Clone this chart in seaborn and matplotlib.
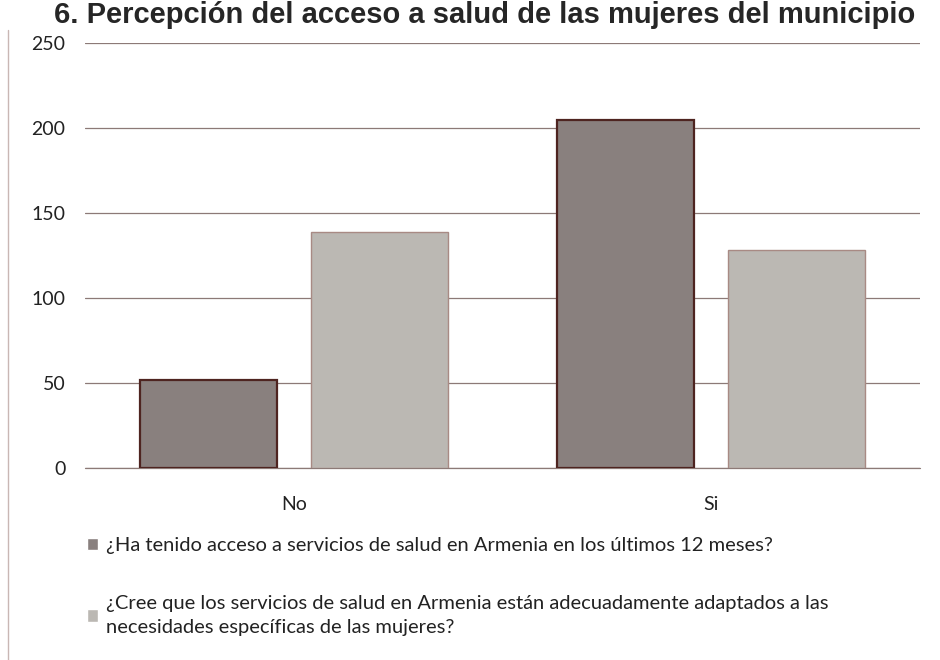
import matplotlib
matplotlib.use("Agg")
import matplotlib.pyplot as plt
from matplotlib.lines import Line2D
import seaborn as sns
import pandas as pd

# Datos
categorias = ["No", "Si"]
acceso_12_meses = [52, 205]
servicios_adaptados = [139, 128]
series = [
    "¿Ha tenido acceso a servicios de salud en Armenia en los últimos 12 meses?",
    "¿Cree que los servicios de salud en Armenia están adecuadamente adaptados a las\nnecesidades específicas de las mujeres?",
]
titulo = "6. Percepción del acceso a salud de las mujeres del municipio"

df = pd.DataFrame({
    "respuesta": categorias * 2,
    "valor": acceso_12_meses + servicios_adaptados,
    "pregunta": [series[0]] * 2 + [series[1]] * 2,
})

sns.set_style("white")
plt.rcParams["font.family"] = ["Lato", "DejaVu Sans"]

fig = plt.figure(figsize=(9.4, 6.6), dpi=100)
ax = fig.add_axes([85 / 940, 1 - 468 / 660, 835 / 940, 425 / 660])

colores = ["#8b7f7c", "#bcb8b2"]
sns.barplot(data=df, x="respuesta", y="valor", hue="pregunta", palette=colores,
            width=0.82, gap=0.2, ax=ax, legend=True)

bordes = ["#4e2420", "#a88a84"]
for cont, ec, lw in zip(ax.containers, bordes, [1.6, 1.0]):
    for barra in cont:
        barra.set_edgecolor(ec)
        barra.set_linewidth(lw)

ax.set_ylim(0, 250)
ax.set_yticks(range(0, 251, 50))
ax.set_xlim(-0.5, 1.5)
ax.grid(axis="y", color="#8c7a77", linewidth=0.9)
ax.axhline(0, color="#8c7a77", linewidth=0.9, clip_on=False, zorder=0.5)
ax.set_axisbelow(True)
for s in ax.spines.values():
    s.set_visible(False)
ax.tick_params(axis="y", length=0, pad=14, labelsize=14, labelcolor="#222222")
ax.tick_params(axis="x", length=0, pad=20, labelsize=14, labelcolor="#222222")
ax.set_xlabel("")
ax.set_ylabel("")

handles, _ = ax.get_legend_handles_labels()
leg = ax.legend(handles, series, loc="upper left", bbox_to_anchor=(-16 / 835, -51 / 425),
                frameon=False, fontsize=14.5, handlelength=0.55, handleheight=0.55,
                handletextpad=0.4, labelspacing=2.05, labelcolor="#222222")
for t in leg.get_texts():
    t.set_linespacing(1.45)

# titulo en la parte superior
fig.text(915 / 940, 1 - 23 / 660, titulo, ha="right", va="baseline",
         fontsize=21, fontweight="bold", family=["Liberation Sans", "DejaVu Sans"])

# marco del area del grafico
fig.add_artist(Line2D([8 / 940, 8 / 940], [0, 1 - 30 / 660], color="#c9b7b4", lw=1))

fig.savefig("out.png", dpi=100)
